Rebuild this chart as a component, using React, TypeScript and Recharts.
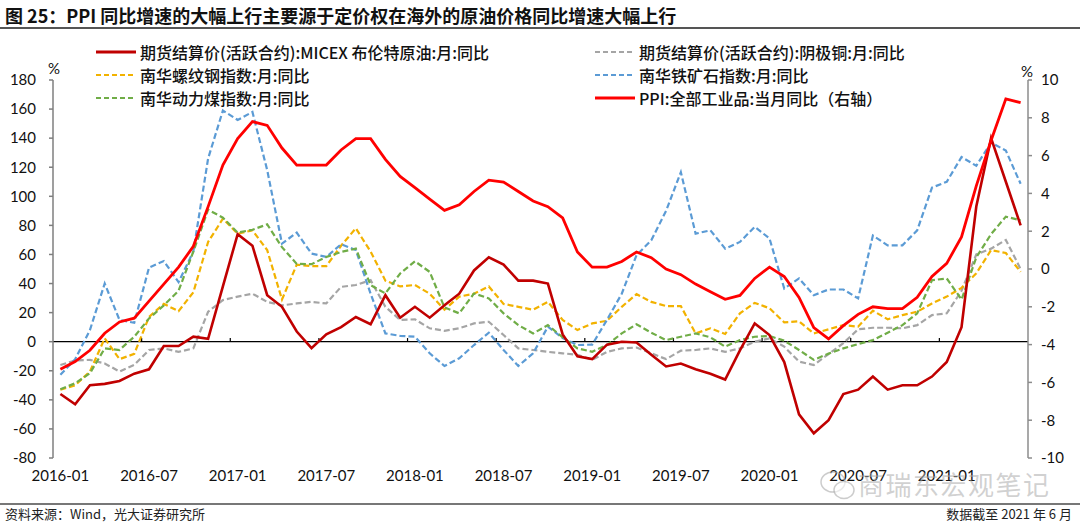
import React from 'react';
import { ComposedChart, Line, XAxis, YAxis, ReferenceLine } from 'recharts';

const tickLabels = ['2016-01', '2016-07', '2017-01', '2017-07', '2018-01', '2018-07', '2019-01', '2019-07', '2020-01', '2020-07', '2021-01'];

const brent = [
  -36, -43, -30, -29, -27, -22, -19, -3, -3, 3.5,
  2, 38, 74, 66, 32, 24, 7, -4.5, 5, 10,
  17, 12, 32, 16.5, 24, 16.5, 25, 33, 49, 58,
  53, 42, 42, 40, 5, -10, -12, -2, 0, -0.5,
  -9, -17, -15, -19, -22, -26, -6, 12.6, 4.6, -14,
  -50, -63, -54, -36, -33, -24, -33, -30, -30, -24,
  -14, 10, 93, 140, 110, 80,
];

const copper = [
  -16, -13, -12.5, -15, -20.5, -16, -5.7, -4.6, -7, -4.6,
  20.6, 28.6, 31, 33, 27.4, 25, 26.3, 27.4, 26.3, 37.7,
  39, 42.3, 24, 15, 15.4, 9.2, 7.5, 9.2, 12.6, 13.7,
  4.6, -4.6, -5.7, -7, -8, -9, -12.5, -7, -4.6, -4,
  -8, -12, -6.2, -5.7, -4.6, -7, -4.6, 0, 2.3, -3.4,
  -13.7, -16, -8.5, -1, 8.5, 9.6, 9.6, 9.2, 11.4, 18.3,
  19.5, 35, 60, 64, 70, 50,
];

const rebar = [
  -33, -30, -20.5, 2.3, -12, -8.4, 17, 26, 21, 34,
  68.6, 84.6, 74.3, 76.6, 63, 29, 53, 52, 52, 66,
  78, 62, 42, 38, 39, 33, 22, 31, 33, 38,
  26, 24, 22, 27.4, 15, 8, 12.6, 14.4, 24, 32.7,
  27.4, 24.5, 24.5, 5.7, 9.2, 5.3, 19.5, 26.7, 23, 13.3,
  14, 5.7, 8.5, 11.4, 10.3, 21.3, 15.4, 18.3, 20.6, 26.3,
  31, 37, 47, 63, 61, 48,
];

const ironOre = [
  -22.8, -12, 8, 40, 15, 13, 51, 55.5, 41, 62,
  126, 159, 152.5, 158, 118, 67.5, 75, 60.6, 58.3, 67,
  63, 33, 5.7, 4, 3.4, -8, -16.7, -11.4, -2.3, 6.2,
  -5.7, -16.7, -8, 10.3, 2.5, -2.3, -2, 15, 33, 59.5,
  69.7, 90, 116.6, 74.3, 76.6, 64, 68.6, 79, 71, 36.6,
  43.5, 32, 35.9, 35.9, 29.8, 73, 66.3, 66.3, 76.6, 106,
  110, 127, 121, 137, 131.4, 108.6,
];

const coal = [
  -32.7, -28.6, -21.7, -4.6, -5.7, 3.4, 16, 25, 35, 62,
  90.8, 85.3, 75, 77, 80.7, 65, 53.5, 53.3, 58.3, 61.7,
  64, 38.9, 33.2, 46.9, 55.3, 48, 23.6, 19.5, 33.2, 29.8,
  19.5, 11.4, 5.7, 11.4, 3, -4.6, -6.9, -2.3, 5.7, 12,
  6.2, 1.1, 3.4, 5.7, 3, -3.4, 1.1, 3.4, 3.9, 0.7,
  -5.7, -12.5, -8.2, -4.6, -1.6, 1.1, 6.2, 11.4, 19.5, 42.3,
  43.5, 29, 58, 74, 86, 83.5,
];

const ppi = [
  -5.3, -4.9, -4.3, -3.4, -2.8, -2.6, -1.7, -0.8, 0.1, 1.2, 3.3, 5.5,
  6.9, 7.8, 7.6, 6.4, 5.5, 5.5, 5.5, 6.3, 6.9, 6.9, 5.8, 4.9,
  4.3, 3.7, 3.1, 3.4, 4.1, 4.7, 4.6, 4.1, 3.6, 3.3, 2.7, 0.9,
  0.1, 0.1, 0.4, 0.9, 0.6, 0.0, -0.3, -0.8, -1.2, -1.6, -1.4, -0.5,
  0.1, -0.4, -1.5, -3.1, -3.7, -3.0, -2.4, -2.0, -2.1, -2.1, -1.5, -0.4,
  0.3, 1.7, 4.4, 6.8, 9.0, 8.8,
];

const leftTicks = [-80, -60, -40, -20, 0, 20, 40, 60, 80, 100, 120, 140, 160, 180];
const rightTicks = [-10, -8, -6, -4, -2, 0, 2, 4, 6, 8, 10];

const COLORS = {
  brent: '#C00000',
  copper: '#A5A5A5',
  rebar: '#F2B200',
  iron: '#5B9BD5',
  coal: '#70AD47',
  ppi: '#FF0000',
};

const data = ppi.map((_, i) => ({
  t: i + 0.5,
  brent: brent[i],
  copper: copper[i],
  rebar: rebar[i],
  iron: ironOre[i],
  coal: coal[i],
  ppi: ppi[i],
}));

const PERIOD = 6;
const labelTicks = tickLabels.map((_, k) => k * PERIOD + 0.5);
const markTicks = tickLabels.map((_, k) => (k + 1) * PERIOD).filter((v) => v < data.length);

const FONT_NUM = 'Lato, "Noto Sans", sans-serif';
const FONT_CJK = '"Noto Sans CJK SC", "Noto Sans", sans-serif';

const legendLeft = [
  { label: '期货结算价(活跃合约):MICEX 布伦特原油:月:同比', color: COLORS.brent, dashed: false },
  { label: '南华螺纹钢指数:月:同比', color: COLORS.rebar, dashed: true },
  { label: '南华动力煤指数:月:同比', color: COLORS.coal, dashed: true },
];
const legendRight = [
  { label: '期货结算价(活跃合约):阴极铜:月:同比', color: COLORS.copper, dashed: true },
  { label: '南华铁矿石指数:月:同比', color: COLORS.iron, dashed: true },
  { label: 'PPI:全部工业品:当月同比（右轴）', color: COLORS.ppi, dashed: false },
];
const legendRows = [52, 75, 98];

function LegendItem({ x, y, item }: { x: number; y: number; item: { label: string; color: string; dashed: boolean } }) {
  return (
    <div style={{ position: 'absolute', left: x, top: y - 12, height: 24, display: 'flex', alignItems: 'center', whiteSpace: 'nowrap' }}>
      <svg width={42} height={6} style={{ display: 'block' }}>
        <line x1={1} y1={3} x2={41} y2={3} stroke={item.color} strokeWidth={item.dashed ? 2 : 3} strokeDasharray={item.dashed ? '5 3' : undefined} />
      </svg>
      <span style={{ marginLeft: 3, fontFamily: FONT_CJK, fontSize: 16, color: '#111', fontWeight: 500 }}>{item.label}</span>
    </div>
  );
}

const XTick = (props: any) => {
  const { x, y, payload } = props;
  const idx = Math.round((payload.value - 0.5) / PERIOD);
  return (
    <text x={x} y={y} dy="0.71em" textAnchor="middle" fontFamily={FONT_NUM} fontSize={15} fill="#111">
      {tickLabels[idx]}
    </text>
  );
};

export default function App() {
  return (
    <div style={{ position: 'absolute', left: 0, top: 0, width: 1080, height: 525, background: '#fff', overflow: 'hidden' }}>
      <div style={{ position: 'absolute', left: 5, top: 2, fontFamily: FONT_CJK, fontSize: 18, fontWeight: 700, color: '#111', whiteSpace: 'nowrap' }}>
        图 25：PPI 同比增速的大幅上行主要源于定价权在海外的原油价格同比增速大幅上行
      </div>
      <div style={{ position: 'absolute', left: 0, top: 27, width: 1080, height: 2, background: '#555' }} />

      <ComposedChart
        width={1080}
        height={525}
        data={data}
        margin={{ top: 80, right: 7, bottom: 37, left: 8 }}
        style={{ position: 'absolute', left: 0, top: 0 }}
      >
        <XAxis
          xAxisId="x"
          dataKey="t"
          type="number"
          domain={[0, data.length]}
          ticks={labelTicks}
          tick={<XTick />}
          axisLine={false}
          tickLine={false}
          tickSize={0}
          tickMargin={12}
          height={30}
          interval={0}
          allowDataOverflow
        />
        <YAxis
          yAxisId="left"
          orientation="left"
          domain={[-80, 180]}
          ticks={leftTicks}
          interval={0}
          width={45}
          axisLine={{ stroke: '#7f7f7f', strokeWidth: 1.5 }}
          tickLine={{ stroke: '#7f7f7f', strokeWidth: 1.5 }}
          tickSize={4}
          tickMargin={13}
          tick={{ fontFamily: FONT_NUM, fontSize: 15, fill: '#111' }}
        />
        <YAxis
          yAxisId="right"
          orientation="right"
          domain={[-10, 10]}
          ticks={rightTicks}
          interval={0}
          width={45}
          axisLine={{ stroke: '#8c8c8c', strokeWidth: 1.5 }}
          tickLine={{ stroke: '#8c8c8c', strokeWidth: 1.5 }}
          tickSize={4}
          tickMargin={9}
          tick={{ fontFamily: FONT_NUM, fontSize: 15, fill: '#111' }}
        />
        <ReferenceLine xAxisId="x" yAxisId="left" y={0} stroke="#000" strokeWidth={1.2} />
        {markTicks.map((m) => (
          <ReferenceLine
            key={m}
            xAxisId="x"
            yAxisId="left"
            segment={[{ x: m, y: 0 }, { x: m, y: 2.5 }]}
            stroke="#000"
            strokeWidth={1.2}
          />
        ))}
        <Line xAxisId="x" yAxisId="left" type="linear" dataKey="copper" stroke={COLORS.copper} strokeWidth={2.2} strokeDasharray="6 3" dot={false} isAnimationActive={false} />
        <Line xAxisId="x" yAxisId="left" type="linear" dataKey="rebar" stroke={COLORS.rebar} strokeWidth={2.2} strokeDasharray="6 3" dot={false} isAnimationActive={false} />
        <Line xAxisId="x" yAxisId="left" type="linear" dataKey="iron" stroke={COLORS.iron} strokeWidth={2.2} strokeDasharray="6 3" dot={false} isAnimationActive={false} />
        <Line xAxisId="x" yAxisId="left" type="linear" dataKey="coal" stroke={COLORS.coal} strokeWidth={2.2} strokeDasharray="6 3" dot={false} isAnimationActive={false} />
        <Line xAxisId="x" yAxisId="left" type="linear" dataKey="brent" stroke={COLORS.brent} strokeWidth={2.6} dot={false} isAnimationActive={false} />
        <Line xAxisId="x" yAxisId="right" type="linear" dataKey="ppi" stroke={COLORS.ppi} strokeWidth={2.8} dot={false} isAnimationActive={false} />
      </ComposedChart>

      <div style={{ position: 'absolute', left: 48, top: 59, fontFamily: FONT_NUM, fontSize: 15, color: '#111' }}>%</div>
      <div style={{ position: 'absolute', left: 1021, top: 62, fontFamily: FONT_NUM, fontSize: 15, color: '#111' }}>%</div>

      {legendLeft.map((it, k) => (
        <LegendItem key={it.label} x={95} y={legendRows[k]} item={it} />
      ))}
      {legendRight.map((it, k) => (
        <LegendItem key={it.label} x={594} y={legendRows[k]} item={it} />
      ))}

      <svg width={40} height={34} style={{ position: 'absolute', left: 818, top: 468 }}>
        <ellipse cx={15} cy={14} rx={12} ry={10} fill="none" stroke="rgba(170,170,170,0.6)" strokeWidth={1.5} />
        <ellipse cx={26} cy={22} rx={10} ry={8.5} fill="rgba(255,255,255,0.6)" stroke="rgba(170,170,170,0.6)" strokeWidth={1.5} />
      </svg>
      <div style={{ position: 'absolute', left: 858, top: 465, fontFamily: FONT_CJK, fontSize: 26, color: 'rgba(170,170,170,0.55)', whiteSpace: 'nowrap', letterSpacing: 1.5 }}>
        商瑞东宏观笔记
      </div>

      <div style={{ position: 'absolute', left: 0, top: 503, width: 1080, height: 1.5, background: '#777' }} />
      <div style={{ position: 'absolute', left: 5, top: 504, fontFamily: FONT_CJK, fontSize: 13, color: '#222', whiteSpace: 'nowrap' }}>
        资料来源：Wind，光大证券研究所
      </div>
      <div style={{ position: 'absolute', right: 8, top: 504, fontFamily: FONT_CJK, fontSize: 13, color: '#222', whiteSpace: 'nowrap' }}>
        数据截至 2021 年 6 月
      </div>
    </div>
  );
}
